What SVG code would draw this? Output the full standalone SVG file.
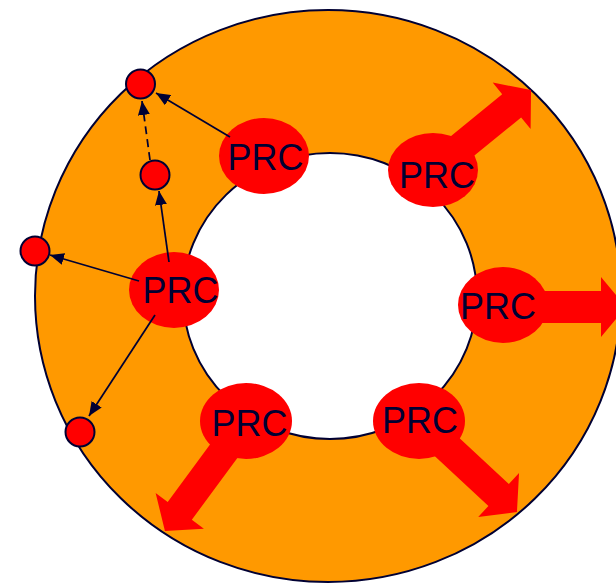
<svg xmlns="http://www.w3.org/2000/svg" width="616" height="584" viewBox="0 0 616 584">
  <style>
    .ring { fill: #FF9900; stroke: #000033; stroke-width: 2; }
    .hole { fill: #FFFFFF; stroke: #000033; stroke-width: 2; }
    .prc { fill: #FF0000; }
    .bulk { fill: #FF0000; }
    .label { font-family: "Liberation Sans", Arial, sans-serif; font-size: 36px; fill: #000033; text-anchor: middle; }
    .dot { fill: #FF0000; stroke: #000033; stroke-width: 2; }
    .link { fill: none; stroke: #000033; stroke-width: 1.75; marker-end: url(#tip); }
    .dashed { stroke-dasharray: 8 5; }
  </style>
  <defs>
    <marker id="tip" markerWidth="14" markerHeight="12" refX="14" refY="6" orient="auto" markerUnits="userSpaceOnUse">
      <path d="M0,0 L14,6 L0,12 Z" fill="#000033"/>
    </marker>
  </defs>

  <!-- ring -->
  <g id="ring">
    <ellipse class="ring" cx="328" cy="296" rx="293" ry="286"/>
    <ellipse class="hole" cx="330" cy="296" rx="147" ry="143"/>
  </g>

  <!-- PRC nodes on the inner rim -->
  <g id="prc-top-left">
    <ellipse class="prc" cx="264" cy="156" rx="45" ry="38"/>
    <text class="label" x="265.5" y="170">PRC</text>
  </g>
  <g id="prc-top-right">
    <path class="bulk" transform="translate(433,170) rotate(-39.2)" d="M0,-15 H101.5 V-30 L126.5,0 L101.5,30 V15 H0 Z"/>
    <ellipse class="prc" cx="433" cy="170" rx="45" ry="37"/>
    <text class="label" x="437" y="188">PRC</text>
  </g>
  <g id="prc-right">
    <path class="bulk" transform="translate(503,307)" d="M0,-16 H98 V-30 L123,0 L98,30 V16 H0 Z"/>
    <ellipse class="prc" cx="503" cy="305" rx="45" ry="38"/>
    <text class="label" x="498" y="319">PRC</text>
  </g>
  <g id="prc-bottom-right">
    <path class="bulk" transform="translate(419,421) rotate(42.9)" d="M0,-15 H108.7 V-30 L133.7,0 L108.7,30 V15 H0 Z"/>
    <ellipse class="prc" cx="419" cy="421" rx="46" ry="38"/>
    <text class="label" x="420" y="433">PRC</text>
  </g>
  <g id="prc-bottom-left">
    <path class="bulk" transform="translate(246,421) rotate(126.4)" d="M0,-15 H111.6 V-30 L136.6,0 L111.6,30 V15 H0 Z"/>
    <ellipse class="prc" cx="246" cy="421" rx="46" ry="38"/>
    <text class="label" x="249.5" y="436">PRC</text>
  </g>
  <g id="prc-left">
    <ellipse class="prc" cx="174" cy="290" rx="45" ry="38"/>
    <text class="label" x="180.5" y="303">PRC</text>
  </g>

  <!-- connectors -->
  <g id="connectors">
    <line class="link" x1="230" y1="137" x2="156" y2="93"/>
    <line class="link dashed" x1="150" y1="160" x2="142" y2="101"/>
    <line class="link" x1="169" y1="262" x2="159" y2="191"/>
    <line class="link" x1="139" y1="281" x2="50" y2="255"/>
    <line class="link" x1="155" y1="315" x2="89" y2="416"/>
  </g>

  <!-- small particles -->
  <g id="dot-top"><circle class="dot" cx="140.5" cy="84" r="14.5"/></g>
  <g id="dot-middle"><circle class="dot" cx="155" cy="175" r="14.5"/></g>
  <g id="dot-left"><circle class="dot" cx="35" cy="251" r="14.5"/></g>
  <g id="dot-bottom"><circle class="dot" cx="80" cy="432" r="14.5"/></g>
</svg>
